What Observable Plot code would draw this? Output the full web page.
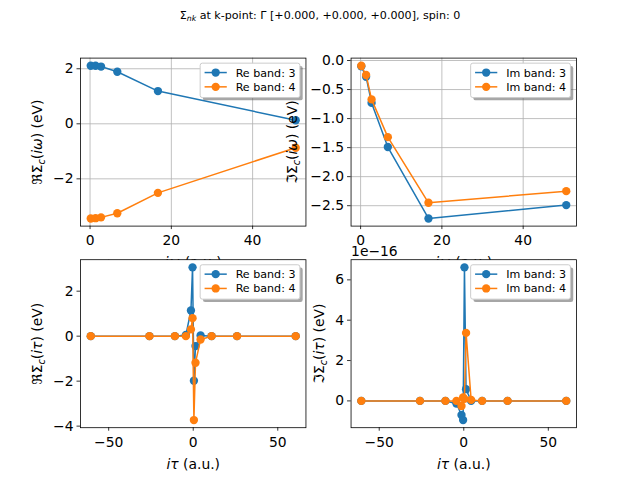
<!DOCTYPE html>
<html>
<head>
<meta charset="utf-8">
<script src="https://cdn.jsdelivr.net/npm/d3@7"></script>
<script src="https://cdn.jsdelivr.net/npm/@observablehq/plot@0.6"></script>
<style>
  body { margin: 0; background: #fff; }
  #fig { position: relative; width: 640px; height: 480px; overflow: hidden; font-family: "DejaVu Sans"; }
  #fig svg { position: absolute; left: 0; top: 0; }
  #title { position: absolute; left: 0; top: 8.5px; width: 640px; text-align: center; font-size: 11.1px; line-height: 13px; color: #000; }
  #title i { font-size: 0.7em; position: relative; top: 0.3em; }
</style>
</head>
<body>
<div id="fig">
  <div id="title">Σ<i>nk</i> at k-point: Γ [+0.000, +0.000, +0.000], spin: 0</div>
</div>
<script>
// ---------------- data ----------------
const omega = [0.17, 1.35, 2.7, 6.7, 16.7, 50.6];
const reOmegaBand3 = [2.11, 2.11, 2.08, 1.89, 1.19, 0.13];
const reOmegaBand4 = [-3.44, -3.43, -3.40, -3.25, -2.51, -0.87];
const imOmegaBand3 = [-0.10, -0.28, -0.73, -1.49, -2.72, -2.49];
const imOmegaBand4 = [-0.09, -0.25, -0.67, -1.32, -2.45, -2.25];

const tau = [-60.6, -25.9, -10.85, -4.35, -1.35, -0.4, 0.4, 1.35, 4.35, 10.85, 25.9, 60.6];
const reTauBand3 = [0, 0, 0, 0.05, 1.14, 3.06, -1.98, -0.44, 0.03, 0, 0, 0];
const reTauBand4 = [0, 0, 0, 0, 0.30, 0.80, -3.73, -1.18, -0.15, 0, 0, 0];
const imTauBand3 = [0, 0, 0, -0.13e-16, -0.70e-16, -0.95e-16, 6.62e-16, 0.58e-16, 0, 0, 0, 0];
const imTauBand4 = [0, 0, 0, 0, -0.25e-16, 0.17e-16, 0.10e-16, 3.37e-16, 0.05e-16, 0, 0, 0];

const omegaTicks = [0, 20, 40];
const tauTicks = [-50, 0, 50];
const reOmegaTicks = [-2, 0, 2];
const imOmegaTicks = [-2.5, -2.0, -1.5, -1.0, -0.5, 0.0];
const reTauTicks = [-4, -2, 0, 2];
const imTauTicks = [0, 2e-16, 4e-16, 6e-16];

const bandNames = ["3", "4"];
const bandColors = ["#1f77b4", "#ff7f0e"];

// ---------------- helpers ----------------
const SVGNS = "http://www.w3.org/2000/svg";
const fig = document.getElementById("fig");

function pad5(vals) {
  const lo = d3.min(vals), hi = d3.max(vals), r = hi - lo;
  return [lo - 0.05 * r, hi + 0.05 * r];
}

function rich(el, segs) {
  el.textContent = "";
  let shifted = 0;
  segs.forEach(s => {
    const ts = document.createElementNS(SVGNS, "tspan");
    ts.textContent = s.t;
    if (s.it) ts.setAttribute("font-style", "italic");
    if (s.sub) {
      ts.setAttribute("font-size", "9.7px");
      ts.setAttribute("dy", "2.8");
      shifted = 2.8;
    } else if (shifted) {
      ts.setAttribute("dy", String(-shifted));
      shifted = 0;
    }
    el.appendChild(ts);
  });
}

function addLegend(svg, right, top, prefix) {
  const fs = 11.1, bp = 0.4 * fs, hl = 2 * fs, htp = 0.8 * fs, bap = 0.5 * fs;
  const g = d3.select(svg).append("g")
    .attr("font-size", fs + "px").attr("font-family", "DejaVu Sans").attr("text-anchor", "start");
  const labels = bandNames.map(b => `${prefix} band: ${b}`);
  const tmp = g.selectAll("text.tmp").data(labels).join("text").attr("class", "tmp").text(d => d);
  let tw = 0;
  tmp.each(function () { tw = Math.max(tw, this.getComputedTextLength()); });
  tmp.remove();
  const w = bp + hl + htp + tw + bp, h = 34.4;
  const x0 = right - bap - w, y0 = top + bap;
  g.append("rect").attr("x", x0 + 2.78).attr("y", y0 + 2.78).attr("width", w).attr("height", h)
    .attr("rx", 2.2).attr("fill", "#4d4d4d").attr("fill-opacity", 0.5);
  g.append("rect").attr("x", x0).attr("y", y0).attr("width", w).attr("height", h)
    .attr("rx", 2.2).attr("fill", "white").attr("stroke", "#cccccc").attr("stroke-width", 1);
  const rowY = [y0 + 9.4, y0 + 23.7];
  labels.forEach((lab, i) => {
    const y = rowY[i];
    g.append("line").attr("x1", x0 + bp).attr("x2", x0 + bp + hl).attr("y1", y).attr("y2", y)
      .attr("stroke", bandColors[i]).attr("stroke-width", 1.5);
    g.append("circle").attr("cx", x0 + bp + hl / 2).attr("cy", y).attr("r", 4.17).attr("fill", bandColors[i]);
    g.append("text").attr("x", x0 + bp + hl + htp).attr("y", y).attr("dy", "0.36em")
      .attr("text-anchor", "start").attr("fill", "black").text(lab);
  });
}

function panel(o) {
  const series = [o.y3, o.y4];
  const rows = series.map(ys => o.x.map((x, i) => ({x, y: ys[i]})));
  const marks = [];
  if (o.cover) marks.push(Plot.frame({fill: "white", stroke: "none", ariaLabel: "cover"}));
  marks.push(Plot.gridX(o.xTicks, {stroke: "#b0b0b0", strokeOpacity: 1, strokeWidth: 0.8, ariaLabel: "gridlines"}));
  marks.push(Plot.gridY(o.yTicks, {stroke: "#b0b0b0", strokeOpacity: 1, strokeWidth: 0.8, ariaLabel: "gridlines"}));
  rows.forEach((r, k) => {
    marks.push(Plot.line(r, {x: "x", y: "y", stroke: bandColors[k], strokeWidth: 1.5}));
    marks.push(Plot.dot(r, {x: "x", y: "y", r: 4.17, fill: bandColors[k]}));
  });
  marks.push(Plot.frame({stroke: "black", strokeWidth: 0.8}));
  marks.push(Plot.axisX(o.xTicks, {tickSize: 3.5, tickPadding: 6, strokeWidth: 0.8, tickFormat: d3.format("d"), label: null}));
  marks.push(Plot.axisY(o.yTicks, {tickSize: 3.5, tickPadding: 3.5, strokeWidth: 0.8, tickFormat: o.yFmt, label: null}));
  marks.push(Plot.text(["__YL__"], {frameAnchor: "left", dx: o.ylabX - o.L, rotate: -90,
    textAnchor: "middle", lineAnchor: "middle", text: d => d, fill: "black"}));
  marks.push(Plot.text(["__XL__"], {frameAnchor: "bottom", dy: 36.8,
    textAnchor: "middle", lineAnchor: "middle", text: d => d, fill: "black"}));
  if (o.offset) marks.push(Plot.text([o.offset], {frameAnchor: "top-left", dy: -3.9,
    textAnchor: "start", lineAnchor: "bottom", text: d => d, fill: "black"}));

  const svg = Plot.plot({
    width: 640, height: 480,
    marginLeft: o.L, marginRight: 640 - o.R, marginTop: o.T, marginBottom: 480 - o.B,
    x: {type: "linear", domain: pad5(o.x)},
    y: {type: "linear", domain: pad5(o.y3.concat(o.y4))},
    style: {fontFamily: "DejaVu Sans", fontSize: "13.89px", background: "transparent", overflow: "visible", color: "black"},
    marks
  });
  const s = d3.select(svg);
  s.selectAll("text").each(function () {
    if (this.textContent === "__YL__") rich(this, o.ylab);
    else if (this.textContent === "__XL__") rich(this, o.xlab);
  });
  s.selectAll('g[aria-label="gridlines"]').lower();
  s.selectAll('g[aria-label="cover"]').lower();
  fig.appendChild(svg);
  addLegend(svg, o.R, o.T, o.prefix);
}

const L1 = 80, R1 = 305.45, L2 = 350.55, R2 = 576;
const T1 = 57.6, B1 = 225.6, T2 = 259.2, B2 = 427.2;
const xlabOmega = [{t: "iω", it: true}, {t: " (a.u.)"}];
const xlabTau = [{t: "iτ", it: true}, {t: " (a.u.)"}];
const fmtInt = d3.format("d");
const fmt1 = d3.format(".1f");

panel({x: omega, y3: reOmegaBand3, y4: reOmegaBand4, L: L1, R: R1, T: T1, B: B1,
  xTicks: omegaTicks, yTicks: reOmegaTicks, yFmt: fmtInt, ylabX: 37.5, prefix: "Re",
  ylab: [{t: "ℜΣ"}, {t: "c", it: true, sub: true}, {t: "("}, {t: "iω", it: true}, {t: ") (eV)"}], xlab: xlabOmega});
panel({x: omega, y3: imOmegaBand3, y4: imOmegaBand4, L: L2, R: R2, T: T1, B: B1,
  xTicks: omegaTicks, yTicks: imOmegaTicks, yFmt: fmt1, ylabX: 292.5, prefix: "Im",
  ylab: [{t: "ℑΣ"}, {t: "c", it: true, sub: true}, {t: "("}, {t: "iω", it: true}, {t: ") (eV)"}], xlab: xlabOmega});
panel({x: tau, y3: reTauBand3, y4: reTauBand4, L: L1, R: R1, T: T2, B: B2, cover: true,
  xTicks: tauTicks, yTicks: reTauTicks, yFmt: fmtInt, ylabX: 37.5, prefix: "Re",
  ylab: [{t: "ℜΣ"}, {t: "c", it: true, sub: true}, {t: "("}, {t: "iτ", it: true}, {t: ") (eV)"}], xlab: xlabTau});
panel({x: tau, y3: imTauBand3, y4: imTauBand4, L: L2, R: R2, T: T2, B: B2, cover: true,
  xTicks: tauTicks, yTicks: imTauTicks, yFmt: d => fmtInt(Math.round(d * 1e16)), ylabX: 319.5, prefix: "Im",
  offset: "1e−16",
  ylab: [{t: "ℑΣ"}, {t: "c", it: true, sub: true}, {t: "("}, {t: "iτ", it: true}, {t: ") (eV)"}], xlab: xlabTau});
</script>
</body>
</html>
